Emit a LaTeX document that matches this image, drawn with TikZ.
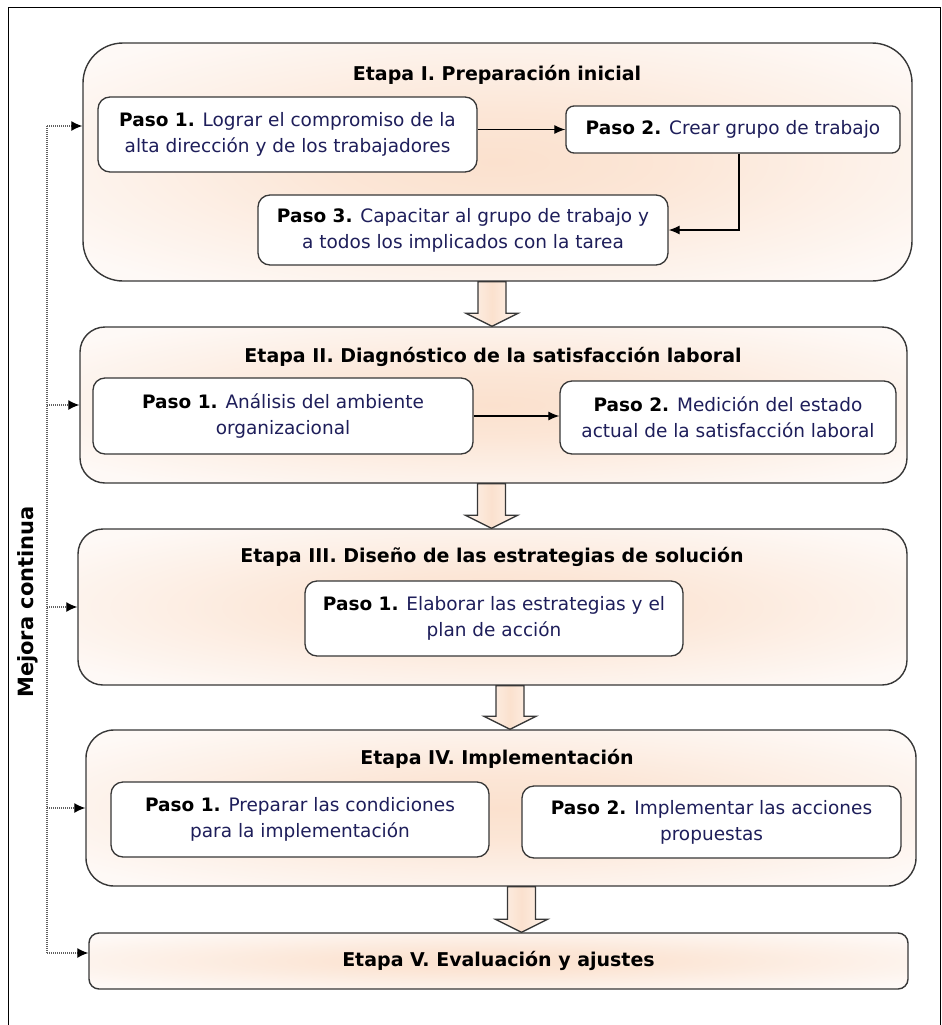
\documentclass[tikz,border=0pt]{standalone}
\usepackage{fontspec}
\setmainfont{DejaVu Sans}
\usetikzlibrary{arrows.meta,calc}
\definecolor{peach}{RGB}{251,225,206}
\definecolor{peachlight}{RGB}{254,249,246}
\definecolor{stepink}{RGB}{30,30,90}
\definecolor{edge}{RGB}{55,55,55}
\pgfdeclareradialshading{softpeach}{\pgfpoint{0bp}{0bp}}{%
  color(0bp)=(peach); color(10bp)=(peach!80!peachlight); color(22bp)=(peach!35!peachlight);
  color(32bp)=(peachlight); color(50bp)=(peachlight)}
\newcommand{\pasolbl}[1]{{\color{black}\bfseries #1}}
\newcommand{\hollowarrow}[3]{%
  \draw[block] let \p1=(#1.south), \p2=(#2.north) in
    (#3pt-14pt,\y1) -- (#3pt+14pt,\y1) -- (#3pt+14pt,\y2+13pt) -- (#3pt+26pt,\y2+13pt)
    -- (#3pt,\y2) -- (#3pt-26pt,\y2+13pt) -- (#3pt-14pt,\y2+13pt) -- cycle;}
\begin{document}
\begin{tikzpicture}[x=1pt,y=-1pt,
  stage/.style={draw=edge, line width=1.4pt, shading=softpeach, rectangle, inner sep=0pt},
  stepbox/.style={draw=edge, line width=1.3pt, fill=white, rounded corners=12pt, inner sep=0pt, align=center, font=\fontsize{18.5}{26}\selectfont, text=stepink},
  ttl/.style={font=\fontsize{19}{24}\selectfont\bfseries, text=black},
  conn/.style={line width=1.2pt, -{Latex[length=11pt,width=9pt]}},
  fb/.style={line width=1.3pt, dash pattern=on 1pt off 1pt, draw=gray!75!black},
  block/.style={draw=edge, line width=1.3pt, shading=axis, left color=peach!40!white, right color=peach!40!white, middle color=peach}]
\path[use as bounding box] (0,0) rectangle (942,1025);
% frame
\draw[line width=1pt] (8,1026) -- (8,8) -- (940,8) -- (940,1026);

% stages
\node[stage, rounded corners=40pt, minimum width=829pt, minimum height=238pt] (s1) at (497.5,162) {};
\node[stage, rounded corners=25pt, minimum width=827pt, minimum height=156pt] (s2) at (493.5,405) {};
\node[stage, rounded corners=25pt, minimum width=829pt, minimum height=156pt] (s3) at (492.5,607) {};
\node[stage, rounded corners=28pt, minimum width=830pt, minimum height=156pt] (s4) at (501,808) {};
\node[stage, rounded corners=10pt, minimum width=819pt, minimum height=56pt, ttl] (s5) at (498.5,961) {Etapa V. Evaluación y ajustes};

% titles
\node[ttl] (t1) at (497,75) {Etapa I. Preparación inicial};
\node[ttl] (t2) at (493,357) {Etapa II. Diagnóstico de la satisfacción laboral};
\node[ttl] (t3) at (492,557) {Etapa III. Diseño de las estrategias de solución};
\node[ttl] (t4) at (497,759) {Etapa IV. Implementación};

% steps
\node[stepbox, minimum width=379pt, minimum height=75pt] (p11) at (287.5,134.5)
  {\pasolbl{Paso 1.} Lograr el compromiso de la\\alta dirección y de los trabajadores};
\node[stepbox, rounded corners=8pt, minimum width=334pt, minimum height=47pt] (p12) at (733,129.5)
  {\pasolbl{Paso 2.} Crear grupo de trabajo};
\node[stepbox, minimum width=410pt, minimum height=70pt] (p13) at (463,230)
  {\pasolbl{Paso 3.} Capacitar al grupo de trabajo y\\a todos los implicados con la tarea};
\node[stepbox, minimum width=380pt, minimum height=76pt] (p21) at (283,416)
  {\pasolbl{Paso 1.} Análisis del ambiente\\organizacional};
\node[stepbox, minimum width=336pt, minimum height=73pt] (p22) at (728,417.5)
  {\pasolbl{Paso 2.} Medición del estado\\actual de la satisfacción laboral};
\node[stepbox, minimum width=378pt, minimum height=75pt] (p31) at (494,618.5)
  {\pasolbl{Paso 1.} Elaborar las estrategias y el\\plan de acción};
\node[stepbox, minimum width=378pt, minimum height=75pt] (p41) at (300,819.5)
  {\pasolbl{Paso 1.} Preparar las condiciones\\para la implementación};
\node[stepbox, minimum width=379pt, minimum height=72pt] (p42) at (711.5,822)
  {\pasolbl{Paso 2.} Implementar las acciones\\propuestas};

% step connectors
\draw[conn] (p11.east |- p12.west) -- (p12.west);
\draw[conn] ([xshift=6pt]p12.south) |- (p13.east);
\draw[conn] (p21.east) -- (p21.east -| p22.west);

% hollow arrows between stages
\hollowarrow{s1}{s2}{492}
\hollowarrow{s2}{s3}{491.5}
\hollowarrow{s3}{s4}{510}
\hollowarrow{s4}{s5}{521.5}

% feedback loop
\coordinate (m1) at (47,126);
\coordinate (m5) at (47,953);
\draw[fb] (m1) -- (m5);
\draw[fb, -{Latex[length=11pt,width=10pt,black]}] (m1) -- (m1 -| s1.west);
\draw[fb, -{Latex[length=11pt,width=10pt,black]}] (s2.west -| m1) -- (s2.west);
\draw[fb, -{Latex[length=11pt,width=10pt,black]}] (s3.west -| m1) -- (s3.west);
\draw[fb, -{Latex[length=11pt,width=10pt,black]}] (s4.west -| m1) -- (s4.west);
\draw[fb, -{Latex[length=11pt,width=10pt,black]}] (m5) -- (m5 -| s5.west);

\node[rotate=90, font=\fontsize{21}{26}\selectfont\bfseries] (mc) at (28,602) {Mejora continua};
\end{tikzpicture}
\end{document}
